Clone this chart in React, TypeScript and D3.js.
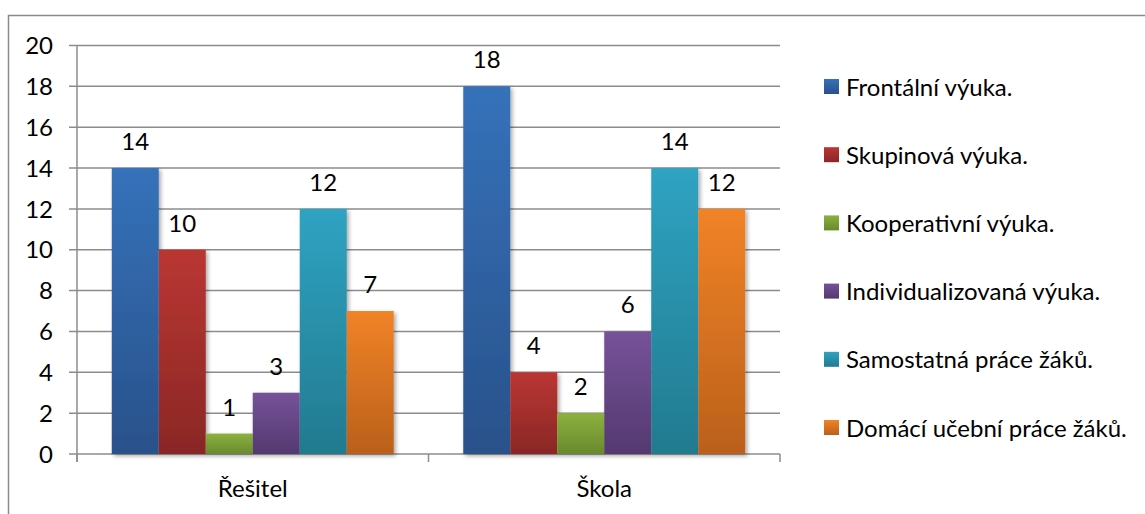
import React from "react";
import * as d3 from "d3";

const categories = ["Řešitel", "Škola"];
const seriesNames = [
  "Frontální výuka.",
  "Skupinová výuka.",
  "Kooperativní výuka.",
  "Individualizovaná výuka.",
  "Samostatná práce žáků.",
  "Domácí učební práce žáků.",
];
// values[series][category]
const values = [
  [14, 18],
  [10, 4],
  [1, 2],
  [3, 6],
  [12, 14],
  [7, 12],
];
const yTicks = [0, 2, 4, 6, 8, 10, 12, 14, 16, 18, 20];
const colorsTop = ["#3572BA", "#BA3633", "#8DB13F", "#765299", "#2FA3C2", "#F18327"];
const colorsBottom = ["#29518A", "#8A2725", "#68892D", "#543970", "#227A8F", "#BA601B"];

const W = 1145;
const H = 514;
const FONT = "Lato, 'Open Sans', sans-serif";
const FS = 24;

export default function App() {
  const left = 77;
  const right = 780;
  const top = 45.5;
  const bottom = 454;

  const x0 = d3.scaleBand<string>().domain(categories).range([left, right]).paddingInner(0).paddingOuter(0);
  const x1 = d3
    .scaleBand<number>()
    .domain(d3.range(seriesNames.length))
    .range([0, x0.bandwidth()])
    .paddingOuter(0.74)
    .paddingInner(0);
  const y = d3.scaleLinear().domain([0, 20]).range([bottom, top]);

  const legendY = d3.scalePoint<number>().domain(d3.range(seriesNames.length)).range([87, 428]);

  return (
    <div style={{ position: "fixed", left: 0, top: 0, width: W, height: H, background: "#fff" }}>
      <svg width={W} height={H} style={{ display: "block", fontFamily: FONT }}>
        <defs>
          {seriesNames.map((_, i) => (
            <linearGradient key={i} id={`g${i}`} x1="0" y1="0" x2="0" y2="1">
              <stop offset="0" stopColor={colorsTop[i]} />
              <stop offset="1" stopColor={colorsBottom[i]} />
            </linearGradient>
          ))}
          <filter id="shadow" x="-20%" y="-5%" width="150%" height="120%">
            <feGaussianBlur in="SourceAlpha" stdDeviation="2" />
            <feOffset dx="2" dy="2" result="b" />
            <feComponentTransfer>
              <feFuncA type="linear" slope="0.35" />
            </feComponentTransfer>
            <feMerge>
              <feMergeNode />
              <feMergeNode in="SourceGraphic" />
            </feMerge>
          </filter>
        </defs>

        {/* chart frame */}
        <rect x={8.5} y={15.5} width={W + 10} height={H + 10} fill="none" stroke="#8a8a8a" strokeWidth={1.5} />

        {/* horizontal gridlines and value axis ticks */}
        {yTicks.map((t) => (
          <g key={t}>
            <line x1={left - 8} x2={right} y1={y(t)} y2={y(t)} stroke="#8c8c8c" strokeWidth={1.5} />
            <text x={53} y={y(t)} dy="0.36em" textAnchor="end" fontSize={FS} fill="#000">
              {t}
            </text>
          </g>
        ))}
        <line x1={left} x2={left} y1={top} y2={bottom + 8} stroke="#8c8c8c" strokeWidth={1.5} />

        {/* category axis ticks */}
        {[left, ...categories.map((c) => (x0(c) as number) + x0.bandwidth())].map((xv, i) => (
          <line key={i} x1={xv} x2={xv} y1={bottom} y2={bottom + 8} stroke="#8c8c8c" strokeWidth={1.5} />
        ))}

        {/* bars */}
        <g filter="url(#shadow)">
          {categories.map((c, ci) =>
            seriesNames.map((_, si) => {
              const v = values[si][ci];
              const bx = (x0(c) as number) + (x1(si) as number);
              return (
                <rect
                  key={`${ci}-${si}`}
                  x={bx}
                  y={y(v)}
                  width={x1.bandwidth()}
                  height={y(0) - y(v)}
                  fill={`url(#g${si})`}
                />
              );
            })
          )}
        </g>

        {/* value labels */}
        {categories.map((c, ci) =>
          seriesNames.map((_, si) => {
            const v = values[si][ci];
            const cx = (x0(c) as number) + (x1(si) as number) + x1.bandwidth() / 2;
            return (
              <text key={`l${ci}-${si}`} x={cx} y={y(v) - 18} textAnchor="middle" fontSize={FS} fill="#000">
                {v}
              </text>
            );
          })
        )}

        {/* category labels */}
        {categories.map((c) => (
          <text key={c} x={(x0(c) as number) + x0.bandwidth() / 2} y={497} textAnchor="middle" fontSize={FS} fill="#000">
            {c}
          </text>
        ))}

        {/* legend */}
        {seriesNames.map((s, i) => {
          const ly = legendY(i) as number;
          return (
            <g key={s}>
              <rect x={824} y={ly - 8} width={15} height={15} fill={`url(#g${i})`} />
              <text x={846} y={ly} dy="0.36em" fontSize={FS} fill="#000">
                {s}
              </text>
            </g>
          );
        })}
      </svg>
    </div>
  );
}
